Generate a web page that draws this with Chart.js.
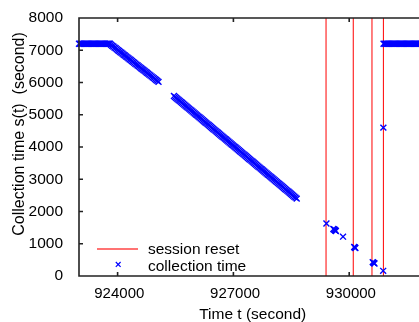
<!DOCTYPE html>
<html>
<head>
<meta charset="utf-8">
<script src="https://cdn.jsdelivr.net/npm/chart.js@4.4.1/dist/chart.umd.min.js"></script>
<style>
  html, body { margin: 0; padding: 0; background: #fff; overflow: hidden; }
  #wrap { width: 432px; height: 322px; }
</style>
</head>
<body>
<div id="wrap"><canvas id="chart" width="432" height="322"></canvas></div>
<script>
// ---- data ----
const xTicks = [924000, 927000, 930000];
const yTicks = [0, 1000, 2000, 3000, 4000, 5000, 6000, 7000, 8000];

// session reset instants (vertical red lines)
const resetTimes = [929400, 930105, 930590, 930886];

// collection time s(t), piece by piece
const plateauT = [923000, 923030, 923060, 923090, 923120, 923150, 923180, 923210, 923240, 923270,
                  923300, 923330, 923360, 923390, 923420, 923450, 923480, 923510, 923540, 923570,
                  923600, 923630, 923660, 923690, 923720, 923750, 923780, 923800];
const plateauS = [7200, 7200, 7200, 7200, 7200, 7200, 7200, 7200, 7200, 7200,
                  7200, 7200, 7200, 7200, 7200, 7200, 7200, 7200, 7200, 7200,
                  7200, 7200, 7200, 7200, 7200, 7200, 7200, 7200];

const decline1T = [923830, 923860, 923890, 923920, 923950, 923980, 924010, 924040, 924070, 924100,
                   924130, 924160, 924190, 924220, 924250, 924280, 924310, 924340, 924370, 924400,
                   924430, 924460, 924490, 924520, 924550, 924580, 924610, 924640, 924670, 924700,
                   924730, 924760, 924790, 924820, 924850, 924880, 924910, 924940, 924970, 925000,
                   925030, 925060];
const decline1S = [7170, 7140, 7115, 7085, 7060, 7030, 7000, 6975, 6945, 6920,
                   6890, 6860, 6835, 6805, 6780, 6750, 6720, 6695, 6665, 6640,
                   6610, 6580, 6555, 6525, 6500, 6470, 6440, 6415, 6385, 6360,
                   6330, 6300, 6275, 6245, 6220, 6190, 6160, 6135, 6105, 6080,
                   6050, 6020];

const decline2T = [925460, 925490, 925520, 925550, 925580, 925610, 925640, 925670, 925700, 925730,
                   925760, 925790, 925820, 925850, 925880, 925910, 925940, 925970, 926000, 926030,
                   926060, 926090, 926120, 926150, 926180, 926210, 926240, 926270, 926300, 926330,
                   926360, 926390, 926420, 926450, 926480, 926510, 926540, 926570, 926600, 926630,
                   926660, 926690, 926720, 926750, 926780, 926810, 926840, 926870, 926900, 926930,
                   926960, 926990, 927020, 927050, 927080, 927110, 927140, 927170, 927200, 927230,
                   927260, 927290, 927320, 927350, 927380, 927410, 927440, 927470, 927500, 927530,
                   927560, 927590, 927620, 927650, 927680, 927710, 927740, 927770, 927800, 927830,
                   927860, 927890, 927920, 927950, 927980, 928010, 928040, 928070, 928100, 928130,
                   928160, 928190, 928220, 928250, 928280, 928310, 928340, 928370, 928400, 928430,
                   928460, 928490, 928520, 928550, 928580, 928610, 928640];
const decline2S = [5580, 5550, 5520, 5490, 5460, 5430, 5400, 5370, 5340, 5310,
                   5280, 5250, 5220, 5190, 5160, 5130, 5100, 5070, 5040, 5010,
                   4980, 4950, 4920, 4890, 4860, 4830, 4800, 4770, 4740, 4710,
                   4680, 4650, 4620, 4590, 4560, 4530, 4500, 4470, 4440, 4410,
                   4380, 4350, 4320, 4290, 4260, 4230, 4200, 4170, 4140, 4110,
                   4080, 4050, 4020, 3990, 3960, 3930, 3900, 3870, 3840, 3810,
                   3780, 3750, 3720, 3690, 3660, 3630, 3600, 3570, 3540, 3510,
                   3480, 3450, 3420, 3390, 3360, 3330, 3300, 3270, 3240, 3210,
                   3180, 3150, 3120, 3090, 3060, 3030, 3000, 2970, 2940, 2910,
                   2880, 2850, 2820, 2790, 2760, 2730, 2700, 2670, 2640, 2610,
                   2580, 2550, 2520, 2490, 2460, 2430, 2400];

const resetsT = [929410, 929590, 929610, 929625, 929640, 929655, 929840, 930130, 930145, 930160, 930610, 930625, 930640, 930655, 930880, 930885];
const resetsS = [1630, 1460, 1440, 1425, 1410, 1395, 1220, 900, 885, 870, 430, 415, 400, 385, 160, 4600];

const restoreT = [930890, 930920, 930950, 930980, 931010, 931040, 931070, 931100, 931130, 931160,
                  931190, 931220, 931250, 931280, 931310, 931340, 931370, 931400, 931430, 931460,
                  931490, 931520, 931550, 931580, 931610, 931640, 931670, 931700, 931730, 931760,
                  931790, 931820, 931850, 931880, 931910, 931940, 931970, 932000];
const restoreS = [7200, 7200, 7200, 7200, 7200, 7200, 7200, 7200, 7200, 7200,
                  7200, 7200, 7200, 7200, 7200, 7200, 7200, 7200, 7200, 7200,
                  7200, 7200, 7200, 7200, 7200, 7200, 7200, 7200, 7200, 7200,
                  7200, 7200, 7200, 7200, 7200, 7200, 7200, 7200];

const FONT = "'Liberation Sans', Arial, Helvetica, sans-serif";
const FS = 15.5;

const pairs = (ts, ss) => ts.map((t, i) => ({ x: t, y: ss[i] }));
const collection = [
  ...pairs(plateauT, plateauS),
  ...pairs(decline1T, decline1S),
  ...pairs(decline2T, decline2S),
  ...pairs(resetsT, resetsS),
  ...pairs(restoreT, restoreS)
];

// frame with inward ticks, x labels, key and axis titles (gnuplot look)
const gnuFrame = {
  id: "gnuFrame",
  afterDatasetsDraw(chart) {
    const { ctx, chartArea: a, scales: { x, y } } = chart;
    ctx.save();
    ctx.strokeStyle = "#222";
    ctx.lineWidth = 1.6;
    ctx.beginPath();
    ctx.rect(a.left, a.top, a.right - a.left, a.bottom - a.top);
    xTicks.forEach(v => {
      const px = x.getPixelForValue(v);
      ctx.moveTo(px, a.bottom); ctx.lineTo(px, a.bottom - 4);
      ctx.moveTo(px, a.top);    ctx.lineTo(px, a.top + 4);
    });
    yTicks.forEach(v => {
      const py = y.getPixelForValue(v);
      ctx.moveTo(a.left, py);  ctx.lineTo(a.left + 4, py);
      ctx.moveTo(a.right, py); ctx.lineTo(a.right - 4, py);
    });
    ctx.stroke();

    ctx.fillStyle = "#000";
    ctx.textBaseline = "alphabetic";

    // x tick labels
    ctx.font = `15px ${FONT}`;
    ctx.textAlign = "center";
    xTicks.forEach(v => ctx.fillText(String(v), x.getPixelForValue(v) + 1.7, 297.5));

    // key
    ctx.font = `${FS}px ${FONT}`;
    ctx.textAlign = "left";
    ctx.strokeStyle = "rgba(255,0,0,0.55)";
    ctx.lineWidth = 2;
    ctx.beginPath();
    ctx.moveTo(97, 249); ctx.lineTo(138, 249);
    ctx.stroke();
    ctx.fillText("session reset", 148, 254);

    ctx.strokeStyle = "#0000ff";
    ctx.lineWidth = 1.2;
    ctx.beginPath();
    ctx.moveTo(115.8, 262); ctx.lineTo(120.6, 266.8);
    ctx.moveTo(120.6, 262); ctx.lineTo(115.8, 266.8);
    ctx.stroke();
    ctx.fillText("collection time", 148, 270.5);

    // axis titles
    ctx.textAlign = "center";
    ctx.fillText("Time t (second)", (a.left + a.right) / 2, 319.4);
    ctx.font = `16px ${FONT}`;
    ctx.translate(23.5, 134);
    ctx.rotate(-Math.PI / 2);
    ctx.fillText("Collection time s(t)  (second)", 0, 0);
    ctx.restore();
  }
};

new Chart(document.getElementById("chart"), {
  type: "scatter",
  data: {
    datasets: [
      {
        label: "collection time",
        data: collection,
        showLine: false,
        pointStyle: "crossRot",
        pointRadius: 4.2,
        pointBorderWidth: 1.4,
        pointBorderColor: "#0000ff",
        pointBackgroundColor: "#0000ff",
        clip: false,
        order: 0
      },
      ...resetTimes.map(t => ({
        type: "line",
        label: "session reset",
        data: [{ x: t, y: 0 }, { x: t, y: 8000 }],
        borderColor: "#ff0000",
        backgroundColor: "#ff0000",
        borderWidth: 1,
        pointRadius: 0,
        order: 1
      }))
    ]
  },
  options: {
    responsive: false,
    animation: false,
    devicePixelRatio: 1,
    events: [],
    layout: { padding: { top: 18, right: 5, left: 0, bottom: 0 } },
    plugins: { legend: { display: false }, tooltip: { enabled: false } },
    scales: {
      x: {
        type: "linear",
        min: 923000, max: 932000,
        grid: { display: false },
        border: { display: false },
        afterBuildTicks: s => { s.ticks = xTicks.map(v => ({ value: v })); },
        afterFit: s => { s.height = 46; },
        ticks: { display: false }
      },
      y: {
        type: "linear",
        min: 0, max: 8000,
        grid: { display: false },
        border: { display: false },
        afterBuildTicks: s => { s.ticks = yTicks.map(v => ({ value: v })); },
        afterFit: s => { s.width = 79; },
        ticks: { color: "#000", font: { family: FONT, size: FS }, padding: 8, callback: v => String(v) }
      }
    }
  },
  plugins: [gnuFrame]
});
</script>
</body>
</html>
